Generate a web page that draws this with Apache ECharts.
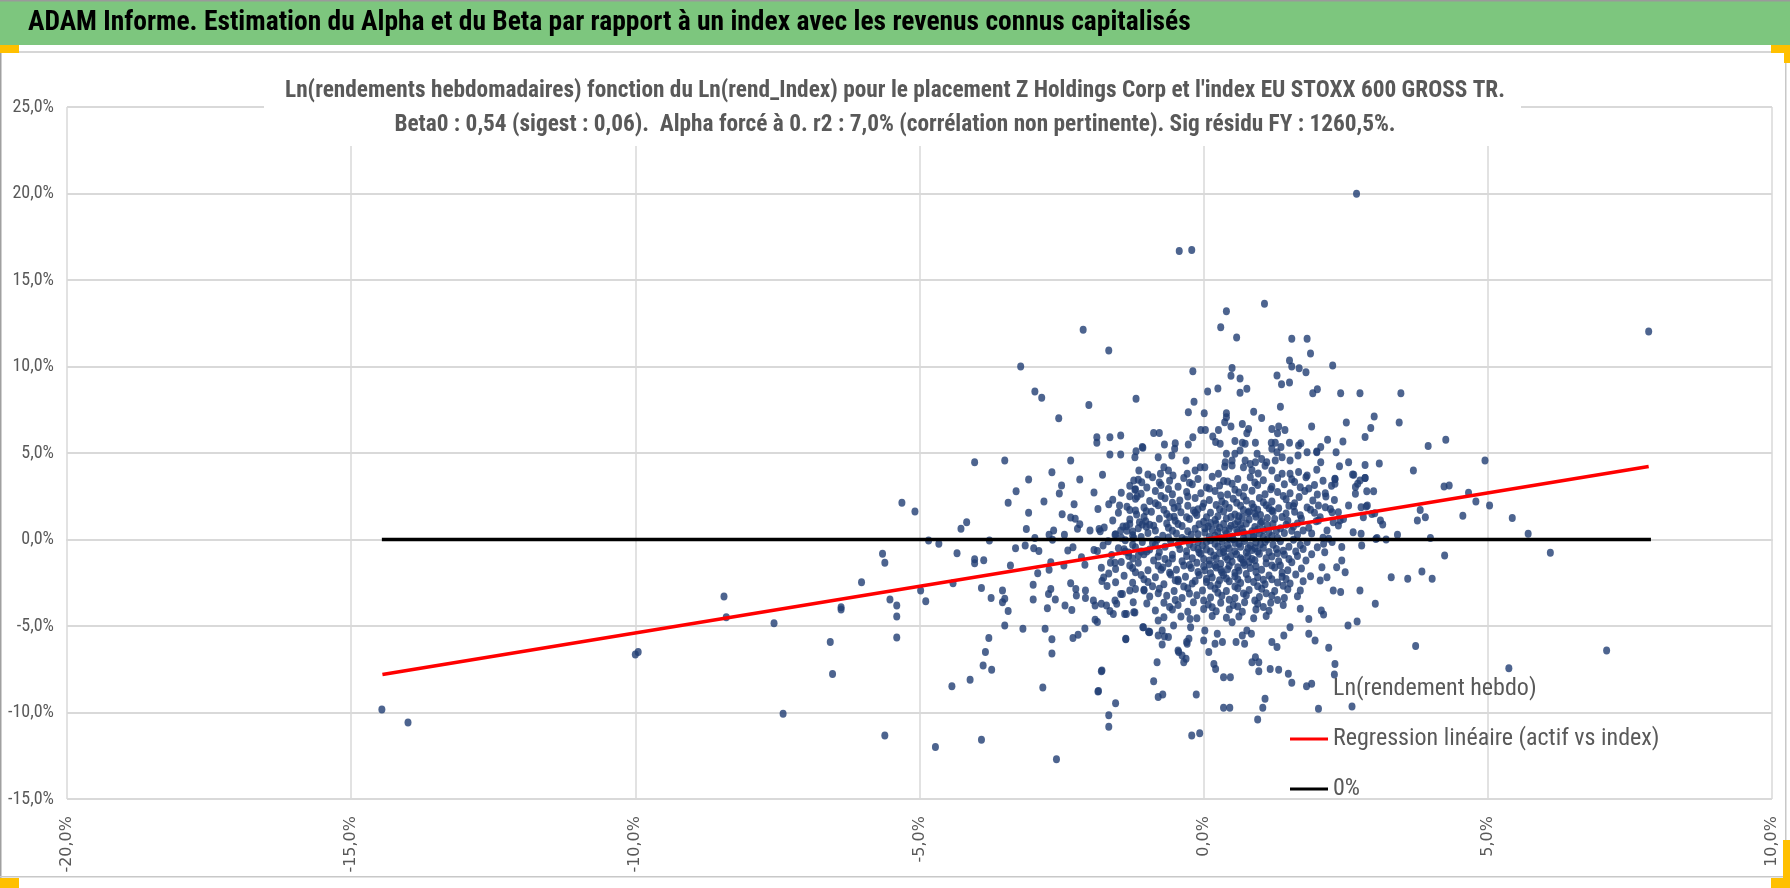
<!DOCTYPE html>
<html lang="fr">
<head>
<meta charset="UTF-8">
<title>ADAM Informe - Alpha et Beta</title>
<script src="https://cdn.jsdelivr.net/npm/echarts@6/dist/echarts.min.js"></script>
<style>
  html, body { margin: 0; padding: 0; background: #fff; }
  #main { width: 1790px; height: 888px; }
</style>
</head>
<body>
<div id="main"></div>
<script>
var pageTitle = 'ADAM Informe. Estimation du Alpha et du Beta par rapport à un index avec les revenus connus capitalisés';
var chartTitle = [
  "Ln(rendements hebdomadaires) fonction du Ln(rend_Index) pour le placement Z Holdings Corp et l'index EU STOXX 600 GROSS TR.",
  'Beta0 : 0,54 (sigest : 0,06).  Alpha forcé à 0. r2 : 7,0% (corrélation non pertinente). Sig résidu FY : 1260,5%.'
];
var legendNames = ['Ln(rendement hebdo)', 'Regression linéaire (actif vs index)', '0%'];

// axes (en %)
var xTicks = [-20, -15, -10, -5, 0, 5, 10];
var yTicks = [-15, -10, -5, 0, 5, 10, 15, 20, 25];

// [rend index %, rend placement %]
var pointsLeft = [
  [-14.46,-9.83],[-14.0,-10.58],[-10.0,-6.65],[-9.95,-6.51],[-8.44,-3.3],[-8.40,-4.49],[-7.56,-4.84],[-7.40,-10.07],
  [-6.57,-5.93],[-6.53,-7.78],[-6.38,-3.91],[-6.38,-4.05],[-6.02,-2.47],[-5.61,-11.33],[-5.52,-3.47],[-5.40,-3.82],
  [-5.40,-4.45],[-5.40,-5.66],[-5.65,-0.83],[-5.61,-1.35],[-5.31,2.12],[-5.08,1.62],[-4.98,-2.95],[-4.89,-3.57],
  [-4.84,-0.06],[-4.66,-0.25],[-4.72,-12.0],[-4.41,-2.53],[-4.43,-8.48],[-4.34,-0.79],[-4.27,0.62],[-4.17,1.0],
  [-4.11,-8.11],[-4.03,4.47],[-4.03,-1.14],[-4.03,-1.37],[-3.91,-2.8],[-3.91,-11.58],[-3.88,-7.28],[-3.87,-1.2],
  [-3.84,-6.51],[-3.78,-5.7],[-3.77,-0.06],[-3.74,-3.38],[-3.73,-7.53],[-3.54,-2.95],[-3.54,-3.63],[-3.50,4.57],
  [-3.50,-3.43],[-3.50,-4.97],[-3.44,2.12],[-3.44,-4.14],[-3.40,-1.5],[-3.31,-0.5],[-3.30,2.79],[-3.22,10.0],
  [-3.18,-5.16],[-3.14,-0.35],[-3.12,0.6],[-3.08,3.47],[-3.08,1.54],[-3.0,-2.62],[-3.0,-3.47],[-2.99,-0.5],
  [-2.97,8.55],[-2.97,0.09],[-2.92,-1.95],[-2.90,-0.67],[-2.85,8.2],[-2.83,-8.55],[-2.81,2.2],[-2.79,-5.16],
  [-2.75,-3.97],[-2.73,-3.15],[-2.72,0.27],[-2.72,-1.75],[-2.69,-1.31],[-2.69,-2.86],[-2.67,3.89],[-2.67,-5.76],
  [-2.67,-6.59],[-2.66,-0.02],[-2.64,0.52],[-2.61,-3.47],[-2.59,-12.7],[-2.55,7.01],[-2.54,2.66],[-2.5,3.12],
  [-2.49,1.46],[-2.46,-1.5],[-2.45,0.27],[-2.44,-3.82],[-2.39,-0.64],[-2.34,4.57],[-2.34,1.27],[-2.34,-2.53],
  [-2.32,-4.07],[-2.30,-0.45],[-2.30,-5.7],[-2.28,2.04],[-2.26,1.2],[-2.25,-2.86],[-2.24,-3.24],[-2.22,0.62],
  [-2.21,-5.5],[-2.18,3.47],[-2.18,0.88],[-2.15,-1.02],[-2.12,12.12],[-2.09,-1.46],[-2.09,-5.14],[-2.08,-2.95],
  [-2.08,-3.38],[-2.02,7.78],[-2.0,0.52],[-1.94,-3.53],[-1.93,2.72],[-1.93,-0.6],[-1.91,-3.82],[-1.91,-4.64],
  [-1.88,5.91],[-1.88,5.59],[-1.87,-0.67],[-1.87,-4.77],[-1.86,1.77],[-1.86,-8.79],[-1.84,0.6],[-1.82,0.48],
  [-1.80,-1.64],[-1.80,-3.72],[-1.80,-7.61],[-1.79,-2.4],[-1.78,3.74],[-1.77,-0.35],[-1.76,-2.2],[-1.71,-3.82],
  [-1.70,-2.69],[-1.67,10.92],[-1.67,2.04],[-1.65,5.91],[-1.65,4.91],[-1.67,-1.96],[-1.65,-4.14],[-1.64,-1.35],
  [-1.59,-4.3],[-1.56,0.27],[-1.56,-1.35],[-1.56,-3.53],[-1.55,-2.47],[-1.55,-9.46],[-1.53,-3.72],[-1.48,1.96],
  [-1.46,6.01],[-1.46,4.91],[-1.46,0.52],[-1.46,-3.15],[-1.43,-3.15],[-1.40,-0.56],[-1.36,0.77],[-1.36,-4.3],
  [-1.37,-5.76],[-1.32,-0.75],[-1.30,-2.95],[-1.25,0.46],[-1.24,-3.63],[-1.23,0.08],[-1.23,3.41],[-1.21,4.76],
  [-1.21,-4.22],[-1.20,1.67],[-1.20,-2.86],[-1.19,5.1],[-1.19,8.13],[-1.15,-0.92],[-1.13,1.0],[-1.14,3.99],
  [-1.09,3.31],[-1.08,0.87],[-1.07,5.3],[-1.05,-2.95],[-1.06,-5.07],[-1.10,-0.7],[-1.01,1.63],[-1.01,0.73],
  [-0.97,-5.32],[-1.67,-10.16],[-1.67,-10.83],[-1.21,2.87],[-1.17,2.49],[-1.08,5.34]
];

var pointsUpper = [
  [-0.43,16.67],[-0.21,16.74],[1.07,13.62],[0.40,13.2],[0.30,12.27],[0.58,11.68],[1.55,11.6],[1.82,11.6],
  [1.88,10.75],[1.51,10.35],[1.55,10.0],[1.68,9.9],[1.80,9.67],[-0.19,9.73],[0.50,9.92],[0.48,9.46],
  [0.64,9.31],[1.29,9.48],[1.37,8.98],[1.51,9.08],[1.92,8.46],[2.0,8.69],[0.07,8.56],[0.25,8.73],
  [0.64,8.48],[0.76,8.71],[-0.17,7.96],[-0.27,7.36],[0.01,7.3],[0.40,7.3],[0.40,7.07],[0.37,6.78],
  [0.48,6.53],[0.26,6.33],[0.88,7.38],[1.02,7.03],[1.35,7.68],[0.68,6.68],[0.79,6.39],[0.76,6.14],
  [1.2,6.39],[1.32,6.53],[1.3,6.14],[1.43,6.33],[1.9,6.53],[-0.05,6.33],[0.03,6.33],[-0.88,6.16],
  [-0.78,6.16],[-0.69,5.49],[-0.5,5.57],[-0.51,5.24],[-0.27,5.49],[-0.19,5.91],[0.16,5.95],[0.21,5.63],
  [0.29,5.53],[0.55,5.69],[0.68,5.59],[0.73,5.53],[0.91,5.59],[1.19,5.59],[1.26,5.59],[1.36,5.34],
  [1.51,5.59],[1.67,5.43],[1.71,5.57],[-0.80,4.76],[-0.56,4.86],[-0.31,4.57],[0.4,4.95],[0.5,4.57],
  [0.64,5.14],[0.94,4.95],[1.02,4.66],[1.11,4.47],[1.29,5.05],[1.38,4.76],[1.52,4.57],[1.66,4.86],
  [1.82,5.05],[1.99,5.05],[-0.98,3.76],[-0.76,3.80],[-0.70,4.18],[-0.62,3.99],[-0.54,3.70],[-0.29,3.80],
  [-0.15,3.99],[-0.06,4.18],[0.02,4.18],[0.26,3.8],[0.37,4.22],[0.50,4.28],[0.70,4.18],[0.82,4.37],
  [0.91,4.47],[1.2,3.99],[1.38,3.8],[1.52,3.8],[1.67,3.9],[1.82,3.7],[1.99,4.03],[0.55,4.95],
  [0.73,4.57],[0.85,4.0],[0.96,3.82],[1.08,4.27],[1.26,4.57],[1.2,5.24],[0.38,4.47],
  [2.69,19.98],[2.27,10.06],[2.41,8.46],[2.75,8.46],[3.47,8.46],[3.0,7.11],[3.44,6.77],[2.51,6.77],
  [2.94,6.44],[2.84,5.92],[2.18,5.76],[2.45,5.66],[2.06,5.34],[1.99,5.09],[2.33,5.05],[3.95,5.41],
  [4.26,5.76],[4.95,4.57],[2.06,4.47],[2.39,4.24],[2.55,4.47],[2.84,4.31],[3.09,4.4],[2.64,3.74],
  [2.84,3.55],[3.69,3.99],[2.31,3.48]
];

var pointsLower = [
  [-1.37,-5.74],[-1.07,-5.07],[-0.95,-5.34],[-0.80,-4.68],[-0.73,-5.26],[-0.80,-5.55],[-0.73,-6.07],[-0.62,-5.64],
  [-0.53,-4.97],[-0.44,-6.51],[-0.38,-6.7],[-0.31,-6.9],[-0.35,-7.09],[-0.29,-6.03],[-0.26,-5.74],[-0.24,-4.59],
  [-0.23,-5.07],[0.02,-5.26],[0.0,-5.84],[0.09,-6.51],[0.18,-7.19],[0.21,-7.48],[0.20,-6.03],[0.33,-5.93],
  [0.24,-5.45],[0.35,-7.96],[0.35,-9.73],[0.5,-4.78],[0.57,-5.93],[0.72,-6.03],[0.68,-5.55],[0.84,-5.45],
  [0.76,-5.26],[0.85,-7.09],[0.91,-6.8],[0.97,-7.09],[0.97,-7.61],[1.17,-7.48],[1.32,-7.53],[1.08,-9.2],
  [1.04,-9.73],[0.95,-10.4],[1.2,-5.93],[1.29,-6.22],[1.41,-5.55],[1.52,-5.07],[1.49,-7.76],[1.55,-8.28],
  [1.7,-4.01],[1.85,-4.59],[1.85,-5.45],[1.96,-5.84],[1.81,-8.48],[1.9,-8.34],[2.02,-9.79],[-1.79,-7.57],
  [-1.85,-8.76],[-0.88,-8.19],[-0.80,-9.1],[-0.72,-8.96],[-0.13,-8.96],[-0.21,-11.33],[-0.07,-11.2],[0.47,-7.96],
  [0.46,-9.73],[-0.82,-7.09],[-0.96,-5.36],[-0.69,-5.6],[-1.39,-4.3],[-1.23,-4.2],[-0.45,-6.42],[-0.30,-5.93]
];

var pointsRight = [
  [7.83,12.02],[5.43,1.25],[5.71,0.33],[6.10,-0.77],[7.09,-6.42],[5.37,-7.44],[4.23,3.06],[4.32,3.12],
  [4.66,2.7],[4.79,2.2],[5.03,1.96],[4.56,1.37],[3.81,1.71],[3.76,1.1],[3.9,1.29],[3.99,0.08],
  [3.41,0.27],[3.21,0.0],[3.05,0.09],[4.24,-0.92],[3.30,-2.18],[3.59,-2.27],[3.84,-1.85],[4.02,-2.27],
  [3.73,-6.16],[3.02,-3.72],[2.75,-2.95],[2.54,-4.97],[2.7,-4.74],[2.28,-2.95],[2.41,-3.04],[2.2,-6.26],
  [2.31,-7.19],[2.30,-7.8],[2.61,-9.65],[2.11,-4.34],[2.07,-4.1],[3.11,1.1],[3.15,0.87],[2.78,-0.35],
  [3.03,0.03],[2.77,0.33],[2.63,0.42],[2.96,1.48],[3.01,1.52],[2.88,1.96],[2.99,2.79],[2.87,2.79],
  [2.84,3.56],[2.71,3.22],[2.67,3.03],[2.75,3.41],[2.62,3.76],[2.67,2.64],[2.55,1.96],[2.81,1.29],
  [2.77,1.87],[2.86,1.91],[2.46,1.19],[2.37,0.81],[2.40,1.1],[2.28,1.0],[2.11,-0.25],[2.20,0.04],
  [2.26,-0.15],[2.17,0.52],[2.13,-0.73],[2.43,-0.44],[2.43,-1.21],[2.34,-1.6],[2.49,-1.89],[2.17,-2.18],
  [2.05,-2.37],[2.08,-1.6],[2.31,3.22],[2.31,3.51],[2.14,2.68],[2.30,2.29],[2.37,1.58],[2.14,1.87],
  [2.23,1.77],[2.26,1.58],[2.02,1.96],[2.02,1.1]
];

// coeur du nuage, lu ligne par ligne
var pointsCore = [
  [-1.15,3.45],[-0.9,3.6],[-0.6,3.4],[-0.35,3.55],[-0.1,3.5],[0.15,3.62],[0.35,3.38],[0.6,3.5],[0.82,3.6],[1.05,3.42],[1.3,3.55],[1.55,3.48],[1.8,3.6],[2.1,3.4],
  [-1.3,3.1],[-1.0,3.0],[-0.75,3.15],[-0.45,3.05],[-0.2,3.2],[0.05,3.0],[0.28,3.12],[0.5,3.22],[0.72,3.0],[0.95,3.15],[1.2,3.05],[1.42,3.2],[1.7,3.02],[1.95,3.15],[2.25,3.1],
  [-1.45,2.7],[-1.1,2.65],[-0.85,2.8],[-0.55,2.62],[-0.3,2.75],[-0.05,2.68],[0.2,2.8],[0.42,2.6],[0.62,2.72],[0.85,2.82],[1.08,2.62],[1.3,2.75],[1.52,2.68],[1.78,2.8],[2.0,2.6],
  [-1.6,2.3],[-1.2,2.35],[-0.95,2.22],[-0.68,2.38],[-0.42,2.25],[-0.15,2.4],[0.1,2.28],[0.32,2.2],[0.52,2.35],[0.75,2.25],[0.98,2.4],[1.2,2.2],[1.45,2.32],[1.68,2.45],[1.92,2.25],
  [-1.35,1.9],[-1.05,1.85],[-0.8,1.98],[-0.52,1.82],[-0.28,1.95],[-0.02,1.88],[0.22,2.0],[0.45,1.82],[0.65,1.95],[0.88,1.85],[1.1,1.98],[1.32,1.8],[1.58,1.92],[1.82,1.85],
  [-1.5,1.55],[-1.18,1.45],[-0.92,1.6],[-0.65,1.48],[-0.4,1.58],[-0.12,1.42],[0.12,1.55],[0.35,1.62],[0.55,1.45],[0.78,1.55],[1.0,1.42],[1.22,1.6],[1.45,1.5],[1.7,1.4],[1.95,1.55],
  [-1.6,1.1],[-1.3,1.15],[-1.02,1.05],[-0.78,1.2],[-0.5,1.08],[-0.25,1.18],[0.0,1.02],[0.2,1.12],[0.4,1.22],[0.6,1.05],[0.8,1.15],[1.02,1.02],[1.25,1.18],[1.48,1.08],[1.72,1.2],[1.98,1.05],
  [-1.75,0.7],[-1.42,0.75],[-1.15,0.65],[-0.88,0.8],[-0.62,0.68],[-0.38,0.78],[-0.15,0.62],[0.08,0.75],[0.28,0.68],[0.48,0.8],[0.68,0.62],[0.9,0.72],[1.12,0.82],[1.35,0.65],[1.58,0.75],[1.85,0.68],
  [-1.55,0.3],[-1.25,0.25],[-0.98,0.38],[-0.72,0.22],[-0.48,0.35],[-0.22,0.28],[0.02,0.4],[0.2,0.22],[0.4,0.32],[0.6,0.42],[0.78,0.25],[0.98,0.35],[1.2,0.2],[1.42,0.38],[1.65,0.28],[1.9,0.35],
  [-1.68,-0.1],[-1.38,-0.05],[-1.08,-0.15],[-0.82,-0.02],[-0.58,-0.12],[-0.32,0.0],[-0.1,-0.15],[0.12,-0.05],[0.32,-0.12],[0.52,0.02],[0.72,-0.08],[0.92,-0.18],[1.12,0.0],[1.35,-0.1],[1.58,-0.02],[1.82,-0.15],
  [-1.5,-0.5],[-1.2,-0.45],[-0.95,-0.58],[-0.68,-0.42],[-0.42,-0.55],[-0.18,-0.45],[0.05,-0.58],[0.25,-0.4],[0.45,-0.52],[0.65,-0.42],[0.85,-0.6],[1.05,-0.48],[1.28,-0.55],[1.5,-0.42],[1.75,-0.55],[2.0,-0.45],
  [-1.62,-0.9],[-1.32,-0.95],[-1.05,-0.85],[-0.8,-0.98],[-0.55,-0.88],[-0.3,-0.95],[-0.05,-0.82],[0.18,-0.92],[0.38,-1.0],[0.58,-0.85],[0.78,-0.95],[0.98,-0.82],[1.2,-0.98],[1.42,-0.88],[1.65,-0.95],[1.9,-0.85],
  [-1.45,-1.3],[-1.15,-1.35],[-0.88,-1.22],[-0.62,-1.38],[-0.38,-1.25],[-0.12,-1.35],[0.1,-1.22],[0.3,-1.4],[0.5,-1.28],[0.7,-1.35],[0.9,-1.2],[1.1,-1.38],[1.32,-1.25],[1.55,-1.32],[1.8,-1.22],
  [-1.55,-1.7],[-1.25,-1.65],[-0.98,-1.78],[-0.72,-1.62],[-0.48,-1.75],[-0.22,-1.65],[0.02,-1.78],[0.22,-1.62],[0.42,-1.72],[0.62,-1.8],[0.82,-1.65],[1.02,-1.75],[1.25,-1.62],[1.48,-1.78],[1.72,-1.68],
  [-1.4,-2.1],[-1.1,-2.05],[-0.85,-2.18],[-0.58,-2.02],[-0.32,-2.15],[-0.08,-2.05],[0.15,-2.2],[0.35,-2.05],[0.55,-2.12],[0.75,-2.0],[0.95,-2.18],[1.15,-2.08],[1.38,-2.15],[1.62,-2.02],[1.88,-2.12],
  [-1.25,-2.5],[-0.98,-2.45],[-0.7,-2.58],[-0.45,-2.42],[-0.2,-2.55],[0.05,-2.45],[0.25,-2.6],[0.45,-2.42],[0.65,-2.52],[0.88,-2.45],[1.08,-2.58],[1.3,-2.48],[1.52,-2.55],[1.75,-2.42],
  [-1.05,-2.9],[-0.78,-2.85],[-0.52,-2.98],[-0.28,-2.82],[-0.02,-2.95],[0.2,-2.85],[0.4,-2.98],[0.6,-2.82],[0.8,-2.92],[1.02,-2.85],[1.25,-2.98],[1.48,-2.88],[1.7,-2.95],
  [-0.95,-3.3],[-0.65,-3.25],[-0.38,-3.38],[-0.12,-3.22],[0.12,-3.35],[0.32,-3.25],[0.55,-3.38],[0.75,-3.22],[0.98,-3.32],[1.2,-3.25],[1.42,-3.38],[1.65,-3.28],
  [-1.0,-3.7],[-0.7,-3.65],[-0.45,-3.78],[-0.18,-3.62],[0.08,-3.75],[0.3,-3.65],[0.52,-3.78],[0.72,-3.62],[0.95,-3.72],[1.18,-3.65],[1.4,-3.78],
  [-0.85,-4.1],[-0.55,-4.05],[-0.28,-4.18],[0.0,-4.02],[0.22,-4.15],[0.45,-4.05],[0.68,-4.18],[0.92,-4.05],[1.15,-4.12],
  [-0.7,-4.5],[-0.4,-4.45],[-0.12,-4.55],[0.15,-4.42],[0.4,-4.52],[0.62,-4.45],[0.88,-4.55],[1.1,-4.42],
  // deuxieme passe, zone la plus dense
  [-0.78,3.3],[-0.25,3.28],[0.42,3.35],[0.9,3.3],[1.6,3.32],
  [-1.2,2.9],[-0.62,2.92],[0.1,2.95],[0.55,2.88],[1.18,2.9],[1.85,2.95],
  [-1.3,2.5],[-0.75,2.52],[-0.28,2.48],[0.3,2.55],[0.7,2.5],[1.4,2.52],[2.15,2.48],
  [-0.85,2.1],[-0.55,2.12],[0.0,2.08],[0.58,2.12],[0.85,2.05],[1.05,2.15],[1.6,2.1],
  [-1.3,1.7],[-0.7,1.72],[-0.18,1.68],[0.28,1.75],[0.7,1.7],[0.95,1.72],[1.2,1.68],[1.88,1.72],
  [-1.05,1.3],[-0.52,1.32],[-0.3,1.28],[0.25,1.35],[0.48,1.3],[0.68,1.28],[0.92,1.32],[1.38,1.3],[2.05,1.28],
  [-1.3,0.9],[-0.65,0.92],[-0.08,0.88],[0.12,0.95],[0.35,0.9],[0.55,0.88],[0.75,0.92],[1.0,0.95],[1.22,0.9],[1.65,0.92],
  [-1.35,0.5],[-0.85,0.52],[-0.28,0.48],[0.15,0.55],[0.38,0.5],[0.58,0.55],[0.85,0.48],[1.05,0.55],[1.28,0.5],[1.75,0.52],
  [-1.45,0.1],[-0.62,0.12],[-0.38,0.08],[0.1,0.15],[0.3,0.1],[0.5,0.18],[0.7,0.1],[0.88,0.12],[1.05,0.15],[1.3,0.08],[2.1,0.1],
  [-1.25,-0.3],[-0.85,-0.32],[-0.25,-0.28],[-0.02,-0.35],[0.2,-0.25],[0.42,-0.32],[0.62,-0.25],[0.82,-0.35],[1.0,-0.28],[1.22,-0.3],[1.7,-0.32],
  [-1.38,-0.7],[-0.78,-0.72],[-0.3,-0.68],[-0.08,-0.75],[0.12,-0.7],[0.35,-0.72],[0.55,-0.68],[0.75,-0.75],[0.95,-0.7],[1.15,-0.72],[1.62,-0.7],
  [-1.25,-1.1],[-0.68,-1.12],[-0.2,-1.08],[0.0,-1.12],[0.22,-1.1],[0.42,-1.15],[0.65,-1.08],[0.85,-1.12],[1.1,-1.08],[1.5,-1.12],
  [-1.3,-1.5],[-0.8,-1.52],[-0.25,-1.48],[0.0,-1.55],[0.2,-1.5],[0.45,-1.52],[0.72,-1.48],[0.92,-1.55],[1.35,-1.5],
  [-1.2,-1.9],[-0.6,-1.92],[-0.1,-1.88],[0.12,-1.95],[0.32,-1.9],[0.55,-1.92],[0.92,-1.88],[1.38,-1.92],
  [-1.05,-2.3],[-0.45,-2.32],[0.05,-2.28],[0.28,-2.35],[0.6,-2.3],[1.05,-2.32],[1.45,-2.28],
  [-0.9,-2.7],[-0.35,-2.72],[0.12,-2.68],[0.55,-2.72],[0.95,-2.7],[1.4,-2.68],
  [-0.8,-3.1],[-0.25,-3.12],[0.25,-3.08],[0.7,-3.12],[1.1,-3.1],
  [-0.5,-3.5],[0.0,-3.52],[0.45,-3.48],[0.9,-3.52],[1.3,-3.5],
  [-0.6,-3.9],[0.15,-3.92],[0.6,-3.88],[1.05,-3.9],
  // troisieme passe, centre
  [-0.45,1.9],[-0.1,1.75],[0.38,2.05],[0.8,1.62],[1.15,1.8],[1.5,1.95],
  [-0.6,1.3],[-0.15,1.55],[0.05,1.28],[0.62,1.35],[0.9,1.5],[1.12,1.25],[1.6,1.6],
  [-0.95,0.85],[-0.45,0.9],[0.02,0.65],[0.22,0.9],[0.45,0.62],[0.65,0.85],[0.95,0.58],[1.45,0.85],
  [-1.1,0.15],[-0.55,0.5],[-0.1,0.3],[0.25,0.45],[0.45,0.05],[0.7,0.4],[0.88,0.2],[1.15,0.42],[1.55,0.5],
  [-0.9,-0.2],[-0.45,-0.3],[0.05,-0.15],[0.35,-0.55],[0.55,-0.2],[0.78,-0.5],[1.08,-0.15],[1.4,-0.65],
  [-1.0,-0.7],[-0.55,-1.1],[-0.1,-0.55],[0.28,-0.8],[0.48,-0.95],[0.68,-1.15],[0.9,-0.5],[1.3,-0.8],
  [-0.75,-1.75],[-0.35,-1.5],[0.1,-1.45],[0.3,-1.75],[0.6,-1.6],[0.8,-1.3],[1.2,-1.5],
  [-0.5,-2.35],[-0.15,-2.4],[0.4,-2.25],[0.78,-2.3],[1.2,-2.3]
];

// extremites
var regressionLine = [[-14.45, -7.80], [7.83, 4.22]];
var zeroLine = [[-14.46, 0], [7.87, 0]];

var narrow = "'Liberation Sans Narrow', 'Arial Narrow', 'Roboto Condensed', sans-serif";
var grey = '#595959';

function pct(v) {
  return v.toFixed(1).replace('.', ',') + '%';
}

var myChart = echarts.init(document.getElementById('main'));

var option = {
  animation: false,
  backgroundColor: '#fff',
  title: {
    text: chartTitle.join('\n'),
    left: 'center',
    top: 66,
    padding: [8, 10, 4, 10],
    textStyle: {
      fontFamily: narrow,
      fontWeight: 'bold',
      fontSize: 23.3,
      lineHeight: 34,
      color: grey
    }
  },
  legend: {
    orient: 'vertical',
    left: 1285,
    top: 671,
    itemGap: 24,
    itemWidth: 38,
    itemHeight: 3,
    textStyle: { fontFamily: narrow, fontSize: 24, lineHeight: 26, color: grey },
    data: [
      { name: legendNames[0], icon: 'circle', itemStyle: { opacity: 0 } },
      { name: legendNames[1], icon: 'rect' },
      { name: legendNames[2], icon: 'rect' }
    ]
  },
  grid: { left: 67, top: 107, width: 1705, height: 692 },
  xAxis: {
    type: 'value',
    min: xTicks[0],
    max: xTicks[xTicks.length - 1],
    interval: 5,
    axisLine: { show: true, lineStyle: { color: '#d9d9d9', width: 2 } },
    axisTick: { show: false },
    splitLine: { show: true, lineStyle: { color: '#d9d9d9', width: 1.5 } },
    axisLabel: {
      rotate: 90,
      margin: 17,
      fontFamily: 'DejaVu Sans',
      fontSize: 16,
      color: grey,
      formatter: pct
    }
  },
  yAxis: {
    type: 'value',
    min: yTicks[0],
    max: yTicks[yTicks.length - 1],
    interval: 5,
    axisLine: { show: false },
    axisTick: { show: false },
    splitLine: { show: true, lineStyle: { color: '#d9d9d9', width: 2 } },
    axisLabel: {
      margin: 13,
      fontFamily: narrow,
      fontSize: 18,
      color: grey,
      formatter: pct
    }
  },
  series: [
    {
      name: legendNames[0],
      type: 'scatter',
      data: pointsLeft.concat(pointsUpper, pointsCore, pointsLower, pointsRight),
      symbol: 'circle',
      symbolSize: [7, 8],
      itemStyle: { color: '#203d73' },
      z: 2
    },
    {
      name: legendNames[1],
      type: 'line',
      data: regressionLine,
      symbol: 'none',
      lineStyle: { color: '#ff0000', width: 3.5 },
      itemStyle: { color: '#ff0000' },
      z: 3
    },
    {
      name: legendNames[2],
      type: 'line',
      data: zeroLine,
      symbol: 'none',
      lineStyle: { color: '#000000', width: 3.5 },
      itemStyle: { color: '#000000' },
      z: 4
    }
  ],
  graphic: [
    // fond blanc du titre du graphique (masque la grille)
    { type: 'rect', shape: { x: 264, y: 66, width: 1257, height: 80 }, style: { fill: '#fff' }, z: 1 },
    { type: 'rect', shape: { x: 0, y: 0, width: 1790, height: 45 }, style: { fill: '#7dc67e' }, z: 10 },
    { type: 'rect', shape: { x: 0, y: 0, width: 1790, height: 1.5 }, style: { fill: '#9a9a9a' }, z: 11 },
    {
      type: 'text', x: 28, y: 23, z: 12,
      style: {
        text: pageTitle,
        fill: '#000',
        font: 'bold 27.5px ' + narrow,
        verticalAlign: 'middle'
      }
    },
    { type: 'rect', shape: { x: 0, y: 51, width: 1790, height: 2 }, style: { fill: '#d6d6d6' }, z: 10 },
    { type: 'rect', shape: { x: 0, y: 51, width: 1.5, height: 827 }, style: { fill: '#a0a0a0' }, z: 10 },
    { type: 'rect', shape: { x: 1785, y: 51, width: 1.5, height: 827 }, style: { fill: '#c8c8c8' }, z: 10 },
    { type: 'rect', shape: { x: 0, y: 876, width: 1790, height: 1.5 }, style: { fill: '#c8c8c8' }, z: 10 },
    // poignees de selection
    { type: 'rect', shape: { x: 0, y: 45, width: 19, height: 8 }, style: { fill: '#ffc000' }, z: 12 },
    { type: 'rect', shape: { x: 1771, y: 45, width: 19, height: 8 }, style: { fill: '#ffc000' }, z: 12 },
    { type: 'rect', shape: { x: 1784, y: 45, width: 6, height: 18 }, style: { fill: '#ffc000' }, z: 12 },
    { type: 'rect', shape: { x: 0, y: 878, width: 19, height: 10 }, style: { fill: '#ffc000' }, z: 12 },
    { type: 'rect', shape: { x: 1771, y: 878, width: 19, height: 10 }, style: { fill: '#ffc000' }, z: 12 },
    { type: 'rect', shape: { x: 1783, y: 840, width: 7, height: 48 }, style: { fill: '#ffc000' }, z: 12 }
  ]
};

myChart.setOption(option);
</script>
</body>
</html>
